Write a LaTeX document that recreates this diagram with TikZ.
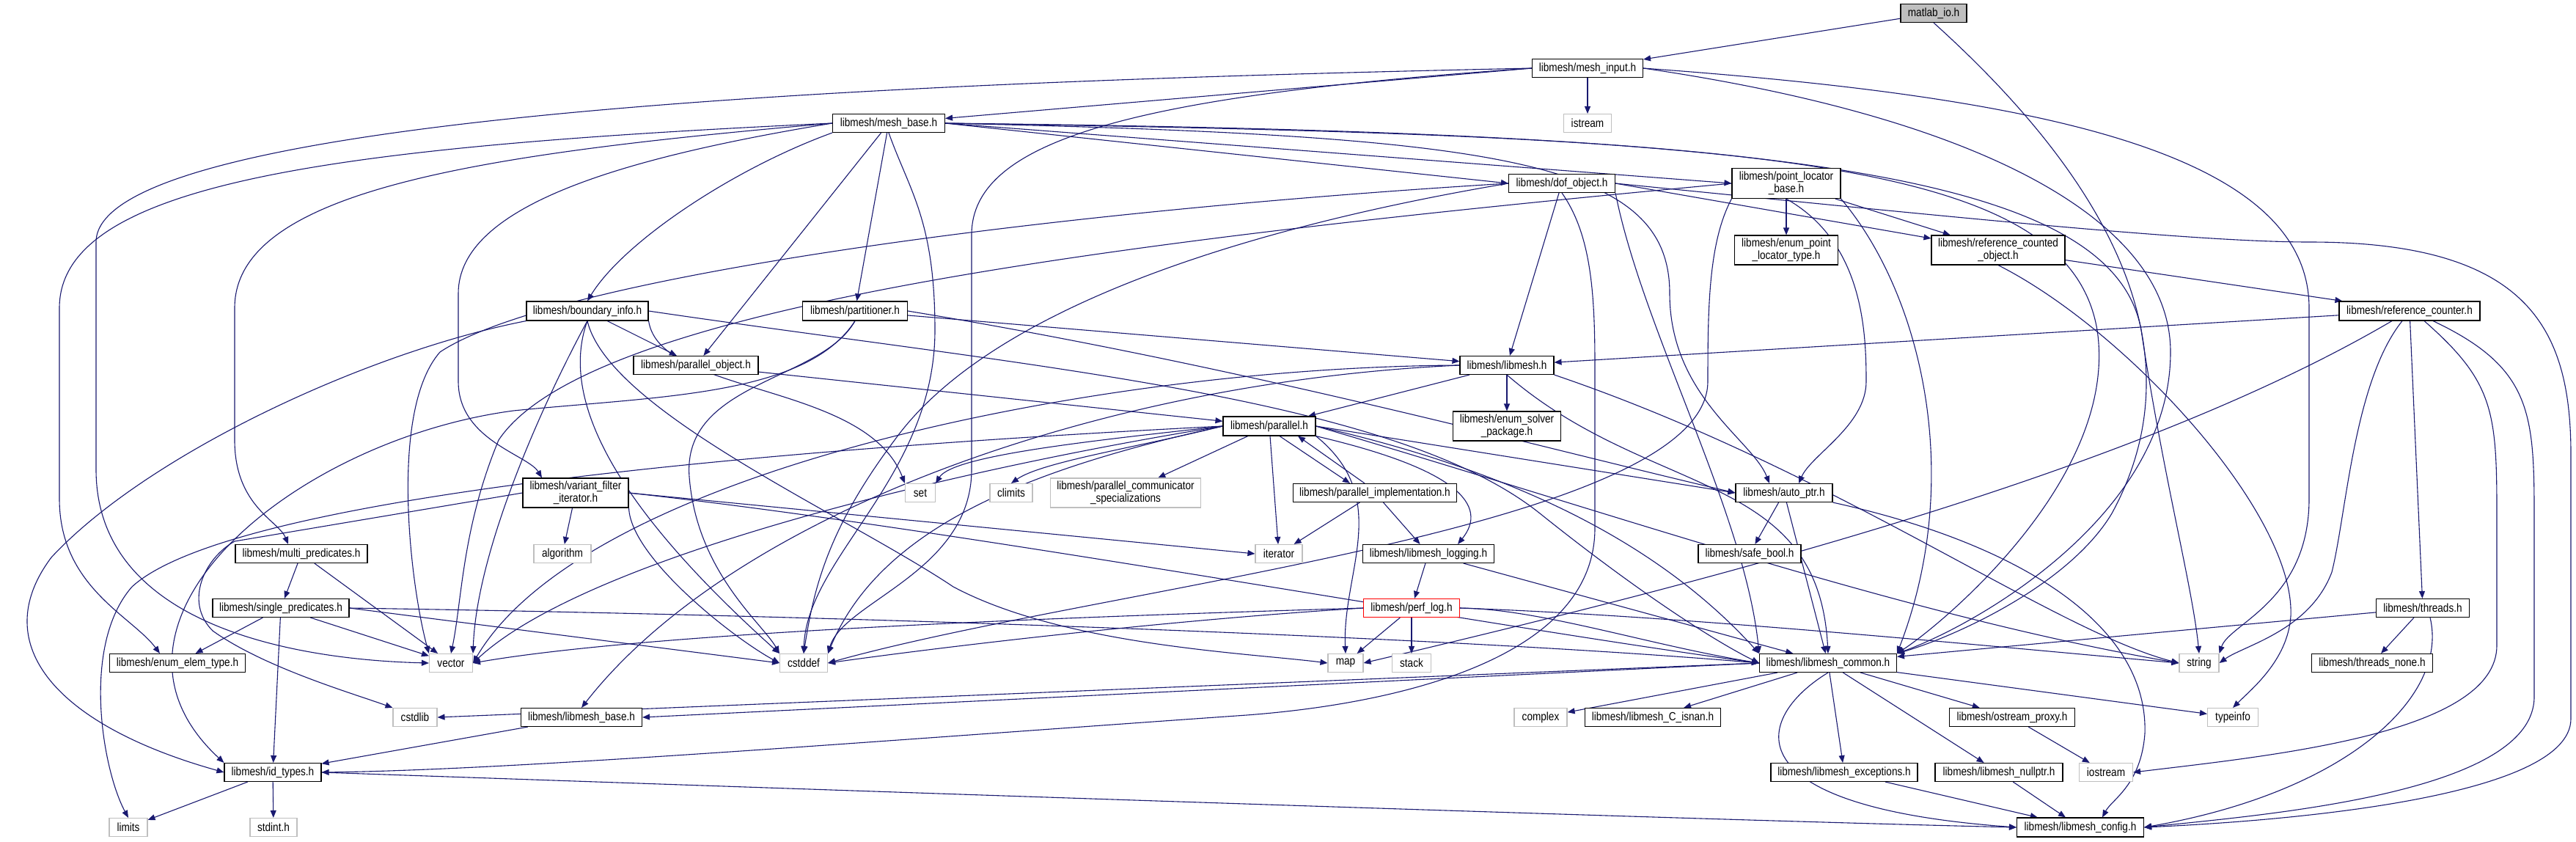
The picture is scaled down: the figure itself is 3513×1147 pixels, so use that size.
\documentclass[tikz,border=0pt]{standalone}
\usepackage{fontspec}
\setmainfont{Liberation Sans}[FakeStretch=0.85]
\usetikzlibrary{arrows.meta}
\definecolor{edgec}{HTML}{191970}
\definecolor{grayb}{HTML}{BFBFBF}
\pgfdeclarelayer{bg}
\pgfdeclarelayer{edges}
\pgfsetlayers{bg,edges,main}
\begin{document}
\begin{tikzpicture}[x=0.5pt,y=-0.5pt,font=\fontsize{8}{8.5}\selectfont]
\tikzset{
 nbox/.style={draw=black,line width=0.55pt,fill=white,inner sep=0pt,align=center},
 sbox/.style={nbox,draw=grayb},
 mbox/.style={nbox,fill=grayb},
 rbox/.style={nbox,draw=red},
 edge/.style={draw=edgec,line width=0.55pt,-{Triangle[length=5pt,width=4pt]}},
}
\begin{pgfonlayer}{bg}
\fill[white] (0,0) rectangle (3513,1147);
\end{pgfonlayer}
\path[use as bounding box] (0,0) rectangle (3513,1147);
\newcommand{\bx}[7]{\node[#1,minimum width=#5pt,minimum height=#6pt] (#2) at (#3,#4) {#7};}
% nodes
\bx{mbox}{matlab}{2637}{18}{45}{12.5}{matlab\_io.h}
\bx{nbox}{minput}{2165}{93}{75.5}{12.5}{libmesh/mesh\_input.h}
\bx{sbox}{istream}{2165}{168}{32.5}{12.5}{istream}
\bx{nbox}{mbase}{1212}{168}{76.5}{12.5}{libmesh/mesh\_base.h}
\bx{nbox}{dof}{2130}{250}{72.5}{12.5}{libmesh/dof\_object.h}
\bx{nbox}{ploc}{2436}{250}{74}{20.5}{libmesh/point\_locator\\\_base.h}
\bx{nbox}{eplt}{2436}{341}{70.5}{20}{libmesh/enum\_point\\\_locator\_type.h}
\bx{nbox}{rco}{2725}{341}{91}{20}{libmesh/reference\_counted\\\_object.h}
\bx{nbox}{rc}{3286}{424}{96}{13}{libmesh/reference\_counter.h}
\bx{nbox}{binfo}{801}{424}{83}{13}{libmesh/boundary\_info.h}
\bx{nbox}{part}{1166}{424}{71.5}{13}{libmesh/partitioner.h}
\bx{nbox}{pobj}{949}{498}{85}{12.5}{libmesh/parallel\_object.h}
\bx{nbox}{lm}{2055}{498}{64}{12.5}{libmesh/libmesh.h}
\bx{nbox}{esp}{2055}{581}{73.5}{20}{libmesh/enum\_solver\\\_package.h}
\bx{nbox}{par}{1731}{581}{63}{13}{libmesh/parallel.h}
\bx{sbox}{set}{1255}{672}{20.5}{12.5}{set}
\bx{sbox}{climits}{1379}{672}{29}{12.5}{climits}
\bx{sbox}{pcs}{1535}{672}{102.5}{20}{libmesh/parallel\_communicator\\\_specializations}
\bx{sbox}{iter}{1744}{755}{32}{12.5}{iterator}
\bx{nbox}{pimpl}{1875}{672}{111.5}{12.5}{libmesh/parallel\_implementation.h}
\bx{nbox}{aptr}{2433}{672}{66}{12.5}{libmesh/auto\_ptr.h}
\bx{nbox}{log}{1948}{755}{89.5}{12.5}{libmesh/libmesh\_logging.h}
\bx{nbox}{sbool}{2386}{755}{70}{12.5}{libmesh/safe\_bool.h}
\bx{nbox}{vfi}{785}{672}{72}{20}{libmesh/variant\_filter\\\_iterator.h}
\bx{sbox}{algo}{767}{755}{39}{12.5}{algorithm}
\bx{nbox}{mpred}{411}{755}{90}{12.5}{libmesh/multi\_predicates.h}
\bx{nbox}{spred}{383}{829}{93}{12.5}{libmesh/single\_predicates.h}
\bx{nbox}{eet}{242}{904}{92.5}{12.5}{libmesh/enum\_elem\_type.h}
\bx{sbox}{vector}{615}{904}{29.5}{12.5}{vector}
\bx{sbox}{cstdlib}{566}{978}{30}{12.5}{cstdlib}
\bx{nbox}{lbase}{793}{978}{82.5}{12.5}{libmesh/libmesh\_base.h}
\bx{sbox}{cstddef}{1096}{904}{32.5}{12.5}{cstddef}
\bx{nbox}{idt}{372}{1053}{66}{12.5}{libmesh/id\_types.h}
\bx{sbox}{limits}{175}{1128}{26}{12.5}{limits}
\bx{sbox}{stdint}{373}{1128}{32}{12.5}{stdint.h}
\bx{rbox}{plog}{1925}{829}{65.5}{12.5}{libmesh/perf\_log.h}
\bx{sbox}{map}{1835}{904}{24}{12.5}{map}
\bx{sbox}{stack}{1925}{904}{26.5}{12.5}{stack}
\bx{nbox}{common}{2493}{904}{93.5}{12.5}{libmesh/libmesh\_common.h}
\bx{sbox}{complex}{2101}{978}{36}{12.5}{complex}
\bx{nbox}{isnan}{2254}{978}{92.5}{12.5}{libmesh/libmesh\_C\_isnan.h}
\bx{nbox}{exc}{2515}{1053}{100}{12.5}{libmesh/libmesh\_exceptions.h}
\bx{nbox}{threads}{3304}{829}{63.5}{12.5}{libmesh/threads.h}
\bx{nbox}{tnone}{3235}{904}{82.5}{12.5}{libmesh/threads\_none.h}
\bx{nbox}{oproxy}{2744}{978}{85.5}{12.5}{libmesh/ostream\_proxy.h}
\bx{sbox}{typeinfo}{3045}{978}{34.5}{12.5}{typeinfo}
\bx{nbox}{nullptr}{2726}{1053}{87}{12.5}{libmesh/libmesh\_nullptr.h}
\bx{sbox}{iostream}{2872}{1053}{36.5}{12.5}{iostream}
\bx{sbox}{string}{2999}{904}{27}{12.5}{string}
\bx{nbox}{config}{2837}{1128}{86.5}{13}{libmesh/libmesh\_config.h}
\begin{pgfonlayer}{edges}
% matlab
\draw[edge] (matlab) -- (minput);
\draw[edge] (matlab.south) .. controls (2880,250) and (3000,480) .. (2880,700) .. controls (2820,800) and (2660,870) .. (common.north east);
% mesh_input
\draw[edge] (minput) -- (istream);
\draw[edge] (minput.west) -- (mbase);
\draw[edge] (minput.west) .. controls (1300,110) and (131,150) .. (131,330) -- (131,640) .. controls (131,860) and (420,900) .. (vector.west);
\draw[edge] (minput.west) .. controls (1550,130) and (1325,190) .. (1325,320) -- (1325,640) .. controls (1325,780) and (1150,820) .. (cstddef.north east);
\draw[edge] (minput.east) .. controls (2750,130) and (3149,200) .. (3149,420) -- (3149,680) .. controls (3149,820) and (3040,850) .. (string.north east);
\draw[edge] (minput.east) .. controls (2700,160) and (2960,300) .. (2960,480) .. controls (2960,700) and (2700,850) .. (common.north east);
% mesh_base
\draw[edge] (mbase.east) -- (dof.west);
\draw[edge] (mbase.east) -- (ploc.west);
\draw[edge] (mbase.east) .. controls (2050,185) and (2277,220) .. (2277,400) .. controls (2277,540) and (2390,600) .. ([xshift=-10pt]aptr.north);
\draw[edge] (mbase.east) .. controls (2400,185) and (2820,215) .. (2860,450) .. controls (2890,650) and (2650,850) .. (common.north east);
\draw[edge] (mbase.east) .. controls (2400,180) and (2880,230) .. (2920,450) .. controls (2950,650) and (2990,800) .. (string.north);
\draw[edge] (mbase.west) .. controls (450,200) and (81,250) .. (81,420) -- (81,680) .. controls (81,800) and (180,840) .. ([xshift=-12pt]eet.north);
\draw[edge] (mbase.west) .. controls (650,210) and (320,260) .. (320,420) -- (320,600) .. controls (320,690) and (380,710) .. ([xshift=-9pt]mpred.north);
\draw[edge] (mbase.west) .. controls (850,215) and (625,280) .. (625,400) -- (625,520) .. controls (625,600) and (720,620) .. ([xshift=-23pt]vfi.north);
\draw[edge] (mbase.south west) .. controls (1000,230) and (850,330) .. (binfo.north);
\draw[edge] (mbase) -- (pobj);
\draw[edge] (mbase) -- (part);
\draw[edge] (mbase.south) .. controls (1240,260) and (1275,300) .. (1275,450) .. controls (1275,650) and (1100,760) .. (cstddef.north);
% dof_object
\draw[edge] (dof.east) -- (rco);
\draw[edge] (dof.east) .. controls (2700,300) and (3000,330) .. (3150,330) .. controls (3450,330) and (3506,450) .. (3506,620) -- (3506,980) .. controls (3506,1090) and (3100,1120) .. (config.east);
\draw[edge] (dof) -- (lm);
\draw[edge] (dof.south) .. controls (2170,320) and (2175,400) .. (2175,500) -- (2175,720) .. controls (2175,900) and (1900,960) .. (1700,975) .. controls (1200,1010) and (700,1050) .. (idt.east);
\draw[edge] (dof.south east) .. controls (2240,450) and (2380,700) .. (common.north west);
\draw[edge] (dof.west) .. controls (1400,290) and (750,380) .. (600,480) .. controls (530,560) and (560,800) .. (vector.north west);
\draw[edge] (dof.west) .. controls (1700,310) and (1350,420) .. (1220,600) .. controls (1130,720) and (1110,800) .. (cstddef.north);
% point_locator_base
\draw[edge] (ploc) -- (eplt);
\draw[edge] (ploc) -- (rco);
\draw[edge] (ploc.south) .. controls (2540,330) and (2545,450) .. (2545,520) .. controls (2545,580) and (2470,620) .. ([xshift=10pt]aptr.north);
\draw[edge] (ploc.south east) .. controls (2620,400) and (2680,650) .. (common.north east);
\draw[edge] (ploc.west) .. controls (1500,330) and (800,420) .. (680,600) .. controls (630,720) and (630,820) .. (vector.north);
\draw[edge] (ploc.south west) .. controls (2330,330) and (2329,420) .. (2329,520) .. controls (2329,720) and (1500,800) .. (cstddef.east);
% reference_counted_object
\draw[edge] (rco) -- (rc);
\draw[edge] (rco.south) .. controls (2900,450) and (3130,700) .. (3124,840) .. controls (3120,900) and (3070,940) .. (typeinfo.north);
% reference_counter
\draw[edge] (rc) -- (lm);
\draw[edge] ([xshift=-12pt]rc.south) .. controls (2900,650) and (2300,800) .. (map.east);
\draw[edge] ([xshift=-5pt]rc.south) .. controls (3210,520) and (3200,700) .. (3180,780) .. controls (3150,860) and (3060,880) .. (string.east);
\draw[edge] (rc) -- (threads);
\draw[edge] ([xshift=10pt]rc.south) .. controls (3400,520) and (3405,560) .. (3405,700) -- (3405,880) .. controls (3405,1000) and (3100,1030) .. (iostream.east);
\draw[edge] ([xshift=16pt]rc.south) .. controls (3450,500) and (3456,560) .. (3456,700) -- (3456,950) .. controls (3456,1080) and (3100,1110) .. (config.east);
% threads
\draw[edge] (threads) -- (tnone);
\draw[edge] ([xshift=5pt]threads.south) .. controls (3340,950) and (3200,1080) .. (config.east);
\draw[edge] (threads) -- (common);
% boundary_info
\draw[edge] (binfo) -- (pobj);
\draw[edge] (binfo.south west) .. controls (500,480) and (200,620) .. (70,760) .. controls (-20,880) and (80,990) .. (idt.west);
\draw[edge] (binfo.south east) .. controls (900,540) and (1180,520) .. (set.north west);
\draw[edge] (binfo.south) .. controls (830,560) and (1150,700) .. (1300,800) .. controls (1450,880) and (1700,890) .. (map.west);
\draw[edge] (binfo.south) .. controls (740,550) and (650,750) .. (vector.north east);
\draw[edge] (binfo.south) .. controls (760,550) and (850,700) .. (cstddef.north west);
\draw[edge] (binfo.east) .. controls (1400,500) and (1900,540) .. (2100,700) .. controls (2250,820) and (2350,880) .. (common.west);
% partitioner
\draw[edge] (part) -- (lm);
\draw[edge] (part.east) .. controls (1700,500) and (2100,610) .. (aptr.west);
\draw[edge] (part.south) .. controls (1100,540) and (900,540) .. (700,560) .. controls (400,600) and (100,850) .. (idt.north west);
\draw[edge] (part.south) .. controls (1120,520) and (930,520) .. (940,650) .. controls (950,780) and (1040,850) .. (cstddef.north west);
% parallel_object
\draw[edge] (pobj) -- (par);
% libmesh.h
\draw[edge] (lm) -- (par);
\draw[edge] (lm) -- (esp);
\draw[edge] (lm.south east) .. controls (2500,640) and (2800,860) .. (string.west);
\draw[edge] (lm.south) .. controls (2250,680) and (2480,640) .. (common.north);
\draw[edge] (lm.west) .. controls (1500,520) and (1000,700) .. (lbase.north);
\draw[edge] (lm.west) .. controls (1500,500) and (800,640) .. (vector.east);
% parallel.h
\draw[edge] (par.west) .. controls (1500,600) and (1300,620) .. (set.north east);
\draw[edge] (par.west) .. controls (1550,610) and (1420,630) .. (climits.north);
\draw[edge] (par) -- (pcs);
\draw[edge] (par) -- (iter);
\draw[edge] ([xshift=7pt]par.south) -- ([xshift=-17pt]pimpl.north);
\draw[edge] ([xshift=-7pt]pimpl.north) -- ([xshift=19.5pt]par.south);
\draw[edge] (par.south east) .. controls (1990,640) and (2030,690) .. ([xshift=20pt]log.north);
\draw[edge] (par.east) -- (aptr.west);
\draw[edge] (par.east) .. controls (2100,650) and (2280,760) .. (common.north west);
\draw[edge] (par.east) .. controls (2200,700) and (2600,840) .. (string.west);
\draw[edge] (par.south east) .. controls (1900,680) and (1830,780) .. (map.north);
\draw[edge] (par.west) .. controls (1400,640) and (1200,720) .. (cstddef.north east);
\draw[edge] (par.west) .. controls (1300,640) and (800,760) .. (vector.east);
\draw[edge] (par.west) .. controls (900,620) and (300,690) .. (180,800) .. controls (110,880) and (140,1050) .. (limits.north);
% parallel_implementation
\draw[edge] (pimpl) -- (iter);
\draw[edge] (pimpl) -- (log);
% logging, perf_log
\draw[edge] (log) -- (plog);
\draw[edge] (log) -- (common);
\draw[edge] (plog) -- (map);
\draw[edge] (plog) -- (stack);
\draw[edge] (plog.west) .. controls (1500,840) and (900,860) .. (vector.east);
\draw[edge] (plog.west) .. controls (1600,845) and (1300,880) .. (cstddef.east);
\draw[edge] (plog.east) .. controls (2100,830) and (2250,880) .. (common.west);
\draw[edge] (plog.east) .. controls (2300,840) and (2700,880) .. (string.west);
% auto_ptr
\draw[edge] (aptr) -- (sbool);
\draw[edge] (aptr) -- (common);
\draw[edge] (aptr.south east) .. controls (2750,740) and (2930,850) .. (2925,1000) .. controls (2920,1070) and (2880,1090) .. ([xshift=15pt]config.north);
% variant_filter_iterator
\draw[edge] (vfi) -- (algo);
\draw[edge] (vfi.east) -- (iter.west);
\draw[edge] (vfi.east) .. controls (1300,720) and (2000,850) .. (common.west);
\draw[edge] (vfi.south east) .. controls (860,760) and (1000,870) .. (cstddef.west);
\draw[edge] (vfi.west) -- (320,738) .. controls (280,760) and (250,820) .. (290,860) .. controls (360,910) and (480,945) .. (cstdlib.north west);
% predicates
\draw[edge] (mpred) -- (spred);
\draw[edge] (mpred) -- (vector);
\draw[edge] (spred) -- (eet);
\draw[edge] (spred) -- (idt);
\draw[edge] (spred) -- (vector);
\draw[edge] (spred.east) -- (cstddef.west);
\draw[edge] (spred.east) .. controls (1200,840) and (2000,870) .. (common.west);
% id_types, libmesh_base
\draw[edge] (idt) -- (limits);
\draw[edge] (idt) -- (stdint);
\draw[edge] (idt.east) .. controls (1500,1090) and (2400,1120) .. (config.west);
\draw[edge] (lbase) -- (idt);
% libmesh_common
\draw[edge] (common.south) .. controls (2390,980) and (2360,1100) .. (config.west);
\draw[edge] (common) -- (complex);
\draw[edge] (common) -- (isnan);
\draw[edge] (common) -- (exc);
\draw[edge] (common) -- (nullptr);
\draw[edge] (common) -- (oproxy);
\draw[edge] (common) -- (typeinfo);
\draw[edge] (common.west) -- (cstdlib.east);
\draw[edge] (common.west) -- (lbase.east);
% leaves
\draw[edge] (exc) -- (config);
\draw[edge] (nullptr) -- (config);
\draw[edge] (oproxy) -- (iostream);
\end{pgfonlayer}
\end{tikzpicture}
\end{document}
